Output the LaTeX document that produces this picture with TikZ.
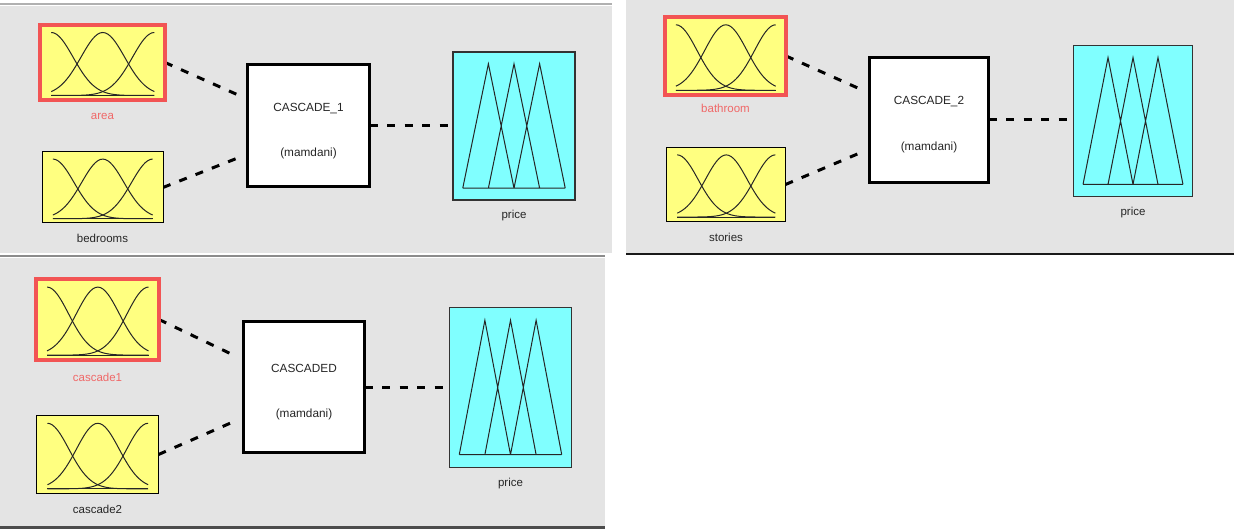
\documentclass[tikz,border=0pt]{standalone}
\usepackage{fontspec}
\setmainfont{Liberation Sans}
\usetikzlibrary{calc,backgrounds}
\definecolor{panelgray}{HTML}{E4E4E4}
\definecolor{mfyellow}{HTML}{FFFF80}
\definecolor{mfcyan}{HTML}{80FFFF}
\definecolor{selred}{HTML}{F25454}
\definecolor{labred}{HTML}{F06868}
\definecolor{rulegray}{HTML}{B0B0B0}
\tikzset{
  mfin/.style={draw=black, line width=1pt, fill=mfyellow, inner sep=0pt, outer sep=0pt},
  mfsel/.style={draw=selred, line width=4pt, fill=mfyellow, inner sep=0pt, outer sep=0pt},
  mfout/.style={draw=black!80, line width=1.3pt, fill=mfcyan, inner sep=0pt, outer sep=0pt},
  sysbox/.style={draw=black, line width=3pt, fill=white, inner sep=0pt, outer sep=0pt},
  systext/.style={anchor=base, inner sep=0pt, text=black!85, font=\fontsize{11.8}{14}\selectfont},
  mflabel/.style={anchor=base, text=black!85, font=\fontsize{11.5}{13.8}\selectfont, inner sep=0pt},
  sellabel/.style={mflabel, text=labred},
  conn/.style={line width=3pt, dash pattern=on 8pt off 9.5pt, black},
  mfline/.style={line width=1pt, black!85},
}
\newcommand{\gaussmfs}[1]{%
  \foreach \c in {0,0.5,1}{%
    \draw[mfline] let \p1=(#1.south west), \p2=(#1.north east),
      \n1={\x1+0.09*(\x2-\x1)}, \n2={\x2-0.085*(\x2-\x1)},
      \n3={\y2-0.1*(\y2-\y1)}, \n4={\y1+0.06*(\y2-\y1)} in
      plot[variable=\t, domain=0:1, samples=41, smooth]
      ({\n1+\t*(\n2-\n1)}, {\n4+(\n3-\n4)*exp(-((\t-\c)^2)/0.09014)});
  }%
  \draw[mfline] let \p1=(#1.south west), \p2=(#1.north east),
      \n1={\x1+0.09*(\x2-\x1)}, \n2={\x2-0.085*(\x2-\x1)},
      \n4={\y1+0.06*(\y2-\y1)} in (\n1,\n4) -- (\n2,\n4);
}
\newcommand{\trimfs}[1]{%
  \draw[mfline] let \p1=(#1.south west), \p2=(#1.north east),
    \n1={\x1+0.08*(\x2-\x1)}, \n2={\x2-0.08*(\x2-\x1)}, \n5={(\n2-\n1)/4},
    \n3={\y2-0.08*(\y2-\y1)}, \n4={\y1+0.08*(\y2-\y1)} in
    (\n1,\n4) -- (\n2,\n4)
    (\n1,\n4) -- ({\n1+\n5},\n3) -- ({\n1+2*\n5},\n4)
    ({\n1+\n5},\n4) -- ({\n1+2*\n5},\n3) -- ({\n1+3*\n5},\n4)
    ({\n1+2*\n5},\n4) -- ({\n1+3*\n5},\n3) -- (\n2,\n4);
}
\begin{document}
\begin{tikzpicture}[x=1pt,y=-1pt]
\useasboundingbox (0,0) rectangle (1234,529);
\begin{scope}[on background layer]
  \fill[white] (0,0) rectangle (1234,529);
  \fill[panelgray] (0,6) rectangle (612,253);
  \draw[rulegray, line width=1.6pt] (0,3.8) -- (612,3.8);
  \fill[panelgray] (626,0) rectangle (1234,253);
  \draw[black!90, line width=2pt] (626,254) -- (1234,254);
  \fill[panelgray] (0,257.7) rectangle (605,525.7);
  \draw[black!45, line width=1.7pt] (0,255.8) -- (605,255.8);
  \draw[black!70, line width=2.6pt] (0,527.2) -- (605,527.2);
\end{scope}

% ---------- panel 1 ----------
\node[mfsel, minimum width=125pt, minimum height=75pt] (area) at (102.5,62.5) {};
\node[mfin, minimum width=121pt, minimum height=71pt] (bedrooms) at (102.5,187.5) {};
\node[sysbox, minimum width=122pt, minimum height=122pt] (casc1) at (308.5,125.5) {};
\node[mfout, minimum width=122pt, minimum height=148pt] (price1) at (514,126) {};
\node[systext] (t1a) at ([yshift=14pt]casc1.center) {CASCADE\_1};
\node[systext] (t1b) at ([yshift=-31pt]casc1.center) {(mamdani)};
\gaussmfs{area}\gaussmfs{bedrooms}\trimfs{price1}
\node[sellabel] (larea) at ([yshift=-20pt]area.south) {area};
\node[mflabel] (lbed) at ([yshift=-20pt]bedrooms.south) {bedrooms};
\node[mflabel] (lprice1) at ([yshift=-19pt]price1.south) {price};
\begin{scope}[on background layer]
  \draw[conn] (area.east) -- ([shift={(-6,-29)}]casc1.west);
  \draw[conn] (bedrooms.east) -- ([shift={(-6,31)}]casc1.west);
  \draw[conn] (casc1.east) -- (casc1.east -| price1.west);
\end{scope}

% ---------- panel 2 ----------
\node[mfsel, minimum width=121pt, minimum height=78pt] (bathroom) at (725.5,56) {};
\node[mfin, minimum width=119pt, minimum height=74pt] (stories) at (726,184.5) {};
\node[sysbox, minimum width=119pt, minimum height=125pt] (casc2) at (929,120) {};
\node[mfout, minimum width=119pt, minimum height=151pt] (price2) at (1133,121) {};
\node[systext] (t2a) at ([yshift=15pt]casc2.center) {CASCADE\_2};
\node[systext] (t2b) at ([yshift=-31pt]casc2.center) {(mamdani)};
\gaussmfs{bathroom}\gaussmfs{stories}\trimfs{price2}
\node[sellabel] (lbath) at ([yshift=-18pt]bathroom.south) {bathroom};
\node[mflabel] (lstories) at ([yshift=-20pt]stories.south) {stories};
\node[mflabel] (lprice2) at ([yshift=-19pt]price2.south) {price};
\begin{scope}[on background layer]
  \draw[conn] (bathroom.east) -- ([shift={(-5,-29)}]casc2.west);
  \draw[conn] (stories.east) -- ([shift={(-5,31)}]casc2.west);
  \draw[conn] (casc2.east) -- (casc2.east -| price2.west);
\end{scope}

% ---------- panel 3 ----------
\node[mfsel, minimum width=123pt, minimum height=81pt] (cascadeone) at (97.5,319.5) {};
\node[mfin, minimum width=122pt, minimum height=78pt] (cascadetwo) at (97.5,454.5) {};
\node[sysbox, minimum width=121pt, minimum height=131pt] (cascd) at (304,387) {};
\node[mfout, minimum width=122pt, minimum height=160pt] (price3) at (510.5,387.5) {};
\node[systext] (t3a) at ([yshift=15pt]cascd.center) {CASCADED};
\node[systext] (t3b) at ([yshift=-30pt]cascd.center) {(mamdani)};
\gaussmfs{cascadeone}\gaussmfs{cascadetwo}\trimfs{price3}
\node[sellabel] (lc1) at ([yshift=-21pt]cascadeone.south) {cascade1};
\node[mflabel] (lc2) at ([yshift=-20pt]cascadetwo.south) {cascade2};
\node[mflabel] (lprice3) at ([yshift=-19pt]price3.south) {price};
\begin{scope}[on background layer]
  \draw[conn] (cascadeone.east) -- ([shift={(-6,-30)}]cascd.west);
  \draw[conn] (cascadetwo.east) -- ([shift={(-6,33)}]cascd.west);
  \draw[conn] (cascd.east) -- (cascd.east -| price3.west);
\end{scope}
\end{tikzpicture}
\end{document}
